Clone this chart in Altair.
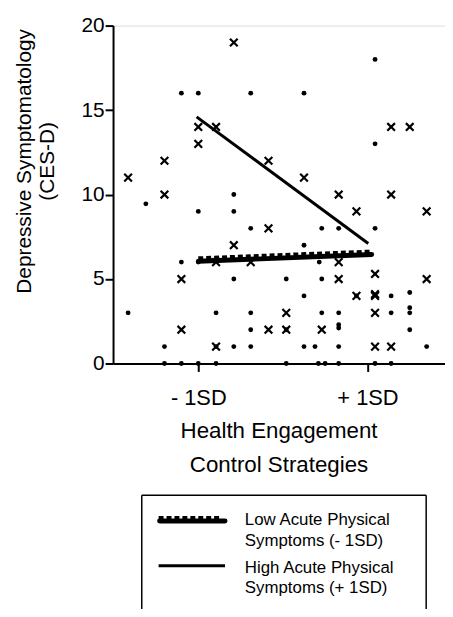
import altair as alt
import pandas as pd

# ---- data (x in SD units of Health Engagement Control Strategies) ----
dot_x = [-1.83, -1.62, -1.40, -1.40,
         -1.20, -1.20, -1.20,
         -1.00, -1.00, -1.00, -1.00,
         -0.79, -0.79, -0.79,
         -0.58, -0.58, -0.58, -0.58,
         -0.38, -0.38, -0.38, -0.38, -0.38,
         0.04, 0.04, 0.04,
         0.25, 0.25, 0.25, 0.25,
         0.38, 0.43,
         0.46, 0.46, 0.46, 0.42, 0.50,
         0.66, 0.66, 0.66, 0.66, 0.66, 0.66,
         0.87,
         1.09, 1.09, 1.09, 1.09,
         1.28, 1.28, 1.28,
         1.50, 1.50, 1.50, 1.50,
         1.70]
dot_y = [3, 9.45, 1, 0,
         16, 6, 0,
         16, 9, 6, 0,
         3, 1, 0,
         10, 9, 5, 1,
         16, 8, 3, 2, 1,
         5, 2, 0,
         16, 7, 4, 1,
         1, 6,
         8, 5, 3, 0, 0,
         8, 3, 2.1, 2.3, 1, 0,
         4,
         18, 13, 8, 0,
         4, 3, 0,
         4.2, 3, 3.3, 2,
         1]

cross_x = [-1.83,
           -1.40, -1.40,
           -1.20, -1.20,
           -1.00, -1.00,
           -0.79, -0.79, -0.79,
           -0.58, -0.58,
           -0.38,
           -0.17, -0.17, -0.17,
           0.04, 0.04,
           0.25,
           0.46,
           0.66, 0.66, 0.66,
           0.87, 0.87,
           1.09, 1.09, 1.09, 1.09, 1.09,
           1.28, 1.28, 1.28,
           1.50,
           1.70, 1.70]
cross_y = [11,
           12, 10,
           5, 2,
           14, 13,
           14, 6, 1,
           19, 7,
           6,
           12, 8, 2,
           3, 2,
           11,
           2,
           10, 6, 5,
           9, 4,
           5.3, 4, 4.1, 3, 1,
           14, 10, 1,
           14,
           9, 5]

low_x = [-1.0, 1.05]
low_y = [6.05, 6.45]
high_x = [-1.02, 1.01]
high_y = [14.6, 7.1]

x_ticks = [-1, 1]
y_ticks = [0, 5, 10, 15, 20]
x_title = ["Health Engagement", "Control Strategies"]
y_title = ["Depressive Symptomatology", "(CES-D)"]
legend_low = ["Low Acute Physical", "Symptoms (- 1SD)"]
legend_high = ["High Acute Physical", "Symptoms (+ 1SD)"]

FONT = "Liberation Sans"
W, H = 335, 341

xs = alt.Scale(domain=[-2.008, 1.917], nice=False, zero=False)
ys = alt.Scale(domain=[0, 20], nice=False, zero=False)

x_axis = alt.Axis(values=x_ticks, labelExpr="datum.value < 0 ? '- 1SD' : '+ 1SD'",
                  tickSize=8, tickWidth=2, domainWidth=2, domainColor="black",
                  tickColor="black", labelColor="black", labelFont=FONT,
                  labelFontSize=22, labelPadding=16, grid=False, title=None)
y_axis = alt.Axis(values=y_ticks, tickSize=8, tickWidth=2, domainWidth=2,
                  domainColor="black", tickColor="black", labelColor="black",
                  labelFont=FONT, labelFontSize=21, labelPadding=1, grid=False,
                  title=None)

dots_df = pd.DataFrame({"x": dot_x, "y": dot_y})
cross_df = pd.DataFrame({"x": cross_x, "y": cross_y})
low_df = pd.DataFrame({"x": low_x, "y": low_y})
high_df = pd.DataFrame({"x": high_x, "y": high_y})

dots = alt.Chart(dots_df).mark_point(filled=True, shape="circle", size=24,
                                     color="black", opacity=1).encode(
    x=alt.X("x:Q", scale=xs, axis=x_axis),
    y=alt.Y("y:Q", scale=ys, axis=y_axis),
)

crosses = alt.Chart(cross_df).mark_point(shape="M-1,-1L1,1M1,-1L-1,1", size=60,
                                         filled=False, color="black",
                                         strokeWidth=2.2, opacity=1).encode(
    x=alt.X("x:Q", scale=xs), y=alt.Y("y:Q", scale=ys))

high = alt.Chart(high_df).mark_line(color="black", strokeWidth=3).encode(
    x=alt.X("x:Q", scale=xs), y=alt.Y("y:Q", scale=ys))

low_base = alt.Chart(low_df).mark_line(color="black", strokeWidth=5,
                                       strokeCap="round").encode(
    x=alt.X("x:Q", scale=xs), y=alt.Y("y:Q", scale=ys))
low_teeth = alt.Chart(low_df).mark_line(color="black", strokeWidth=4,
                                        strokeDash=[5, 3], yOffset=-3).encode(
    x=alt.X("x:Q", scale=xs), y=alt.Y("y:Q", scale=ys))

one = alt.Data(values=[{"a": 0}])

def rule(x1, y1, x2, y2, w):
    return alt.Chart(one).mark_rule(color="black", strokeWidth=w).encode(
        x=alt.value(x1), y=alt.value(y1), x2=alt.value(x2), y2=alt.value(y2))

def text(t, x, y, size, align="left", angle=0, lh=None):
    kw = dict(font=FONT, fontSize=size, color="black", align=align,
              baseline="middle", angle=angle)
    if lh is not None:
        kw["lineHeight"] = lh
    return alt.Chart(one).mark_text(**kw).encode(
        x=alt.value(x), y=alt.value(y), text=alt.value(t))

# legend box (top, left, right edges; bottom runs off the page)
box = [rule(29, 474, 316, 474, 1.5), rule(29, 474, 29, 600, 1.5),
       rule(316, 474, 316, 600, 1.5)]
leg_low_base = alt.Chart(one).mark_rule(color="black", strokeWidth=5,
                                        strokeCap="round").encode(
    x=alt.value(47), x2=alt.value(113), y=alt.value(500), y2=alt.value(500))
leg_low_teeth = alt.Chart(one).mark_rule(color="black", strokeWidth=4,
                                         strokeDash=[5, 3]).encode(
    x=alt.value(46), x2=alt.value(110), y=alt.value(497), y2=alt.value(497))
leg_high = rule(46, 545, 113, 545, 3)

texts = [
    text(legend_low, 133, 499, 17, lh=21),
    text(legend_high, 133, 547, 17, lh=21),
    text(x_title, W / 2, 409, 22.5, align="center", lh=34),
    text(y_title, -89, 137, 21, align="center", angle=270, lh=23),
]

chart = alt.layer(
    dots, crosses, high, low_base, low_teeth,
    *box, leg_low_base, leg_low_teeth, leg_high, *texts
).properties(
    width=W, height=H,
    autosize=alt.AutoSizeParams(type="none"),
    padding={"left": 106, "top": 15, "right": 0, "bottom": 245},
).configure_view(stroke=None).configure(background="white")

chart.save("out.html", embed_options={"renderer": "svg", "actions": False})
